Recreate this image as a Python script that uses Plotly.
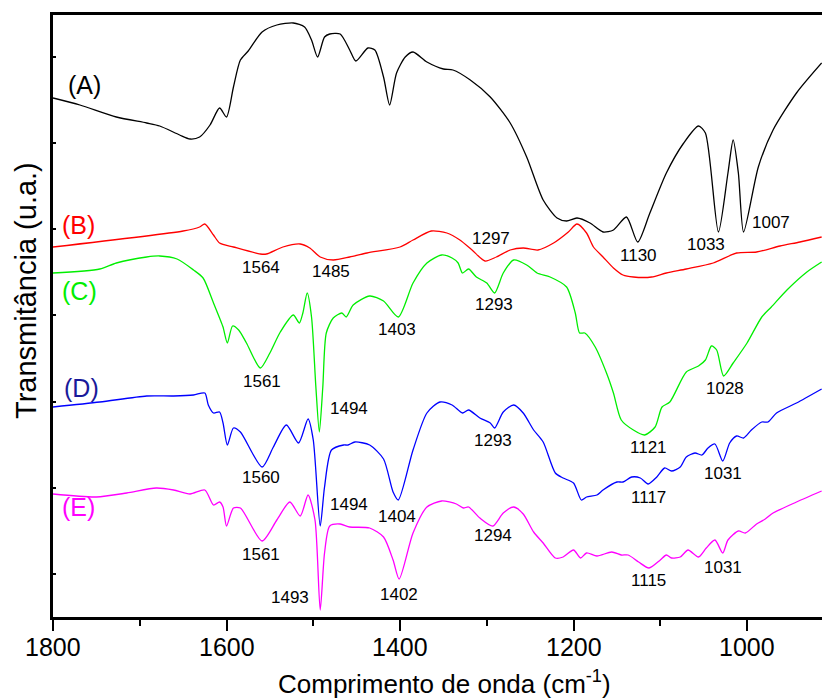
import plotly.graph_objects as go

# Wavenumbers (cm-1) and transmittance (arbitrary units, already offset) for each spectrum
wn_A = [1800, 1769, 1727, 1692, 1677, 1654, 1642, 1631, 1619, 1608, 1600, 1592, 1584, 1575, 1559, 1542, 1523, 1510, 1502, 1495, 1487, 1481, 1469, 1458, 1451, 1437, 1429, 1419, 1412, 1404, 1394, 1385, 1369, 1350, 1339, 1319, 1296, 1273, 1254, 1235, 1219, 1208, 1196, 1181, 1166, 1154, 1139, 1126, 1112, 1093, 1073, 1056, 1048, 1033, 1022, 1016, 1010, 1004, 987, 970, 943, 914]
T_A = [519, 512, 500, 494, 491, 482, 478, 480, 492, 509, 500, 530, 557, 566, 585, 592, 594, 590, 577, 560, 580, 583, 583, 567, 556, 569, 567, 540, 512, 544, 560, 565, 555, 548, 547, 537, 520, 494, 460, 417, 399, 396, 399, 394, 385, 387, 400, 375, 404, 444, 474, 491, 484, 385, 444, 477, 444, 385, 450, 487, 524, 554]

wn_B = [1800, 1650, 1631, 1625, 1615, 1608, 1592, 1561, 1554, 1535, 1515, 1504, 1492, 1477, 1458, 1438, 1400, 1385, 1364, 1346, 1331, 1317, 1302, 1289, 1273, 1258, 1241, 1223, 1206, 1196, 1185, 1177, 1166, 1154, 1143, 1131, 1110, 1093, 1070, 1039, 1012, 989, 962, 939, 914]
T_B = [370, 386, 390, 393, 382, 374, 370, 363, 363, 370, 373, 369, 360, 357, 360, 364, 370, 377, 386, 384, 377, 367, 356, 360, 367, 369, 367, 374, 385, 393, 384, 370, 360, 349, 342, 340, 340, 344, 348, 354, 364, 365, 371, 375, 380]

wn_C = [1800, 1746, 1727, 1692, 1677, 1657, 1638, 1627, 1615, 1608, 1604, 1599, 1593, 1586, 1577, 1561, 1550, 1538, 1523, 1516, 1512, 1507, 1502, 1497, 1493, 1489, 1485, 1477, 1467, 1462, 1454, 1435, 1419, 1402, 1385, 1369, 1352, 1340, 1333, 1328, 1321, 1312, 1300, 1291, 1281, 1269, 1254, 1242, 1227, 1208, 1198, 1193, 1187, 1175, 1162, 1154, 1145, 1131, 1118, 1106, 1098, 1089, 1070, 1056, 1048, 1041, 1035, 1027, 1016, 1000, 983, 972, 954, 931, 914]
T_C = [344, 348, 354, 360, 361, 358, 347, 339, 314, 299, 290, 274, 291, 287, 274, 249, 264, 285, 302, 294, 304, 324, 300, 230, 185, 230, 284, 299, 304, 300, 312, 321, 316, 300, 334, 354, 362, 359, 354, 344, 348, 340, 334, 324, 344, 357, 352, 344, 340, 330, 304, 284, 284, 270, 244, 224, 197, 187, 182, 190, 210, 215, 245, 251, 257, 271, 267, 241, 254, 274, 300, 310, 327, 345, 355]

wn_D = [1800, 1746, 1692, 1661, 1638, 1625, 1621, 1615, 1608, 1604, 1599, 1592, 1584, 1559, 1546, 1531, 1517, 1506, 1500, 1492, 1487, 1479, 1465, 1460, 1452, 1435, 1419, 1408, 1402, 1385, 1369, 1354, 1340, 1328, 1321, 1308, 1296, 1291, 1281, 1269, 1258, 1246, 1235, 1221, 1212, 1200, 1191, 1185, 1173, 1166, 1150, 1143, 1133, 1123, 1114, 1104, 1095, 1087, 1077, 1070, 1060, 1052, 1045, 1037, 1028, 1020, 1012, 1004, 995, 983, 976, 966, 943, 914]
T_D = [210, 215, 221, 221, 222, 224, 212, 204, 205, 194, 172, 189, 185, 150, 170, 192, 174, 198, 177, 91, 130, 167, 172, 172, 175, 172, 158, 125, 117, 167, 204, 215, 212, 204, 207, 199, 194, 189, 205, 212, 204, 187, 175, 144, 139, 134, 117, 120, 122, 127, 135, 135, 140, 139, 133, 140, 149, 146, 150, 160, 164, 162, 169, 173, 156, 174, 181, 179, 187, 195, 195, 204, 214, 228]

wn_E = [1800, 1750, 1715, 1681, 1661, 1642, 1625, 1615, 1608, 1604, 1600, 1592, 1584, 1559, 1542, 1527, 1515, 1506, 1498, 1492, 1487, 1481, 1469, 1458, 1435, 1419, 1408, 1401, 1385, 1369, 1352, 1335, 1327, 1321, 1308, 1293, 1281, 1269, 1258, 1246, 1235, 1221, 1212, 1200, 1192, 1185, 1173, 1156, 1145, 1137, 1125, 1113, 1100, 1093, 1087, 1077, 1068, 1056, 1047, 1037, 1028, 1022, 1010, 1002, 989, 979, 970, 943, 914]
T_E = [123, 120, 124, 129, 127, 123, 127, 112, 115, 110, 91, 109, 109, 76, 97, 115, 101, 122, 97, 7, 64, 91, 93, 90, 89, 80, 57, 38, 84, 110, 116, 113, 109, 110, 99, 91, 104, 110, 103, 85, 74, 59, 60, 67, 59, 64, 61, 65, 62, 62, 55, 49, 57, 62, 59, 60, 67, 60, 69, 77, 64, 77, 86, 84, 93, 98, 104, 115, 126]

series = [
    ("(A)", wn_A, T_A, "#000000"),
    ("(B)", wn_B, T_B, "#ff0000"),
    ("(C)", wn_C, T_C, "#00ee00"),
    ("(D)", wn_D, T_D, "#0000ff"),
    ("(E)", wn_E, T_E, "#ff00ff"),
]

# Curve labels: text, wavenumber, transmittance, colour
curve_labels = [
    ("(A)", 1764, 532, "#000000"),
    ("(B)", 1771, 392, "#ff0000"),
    ("(C)", 1769, 326, "#00ee00"),
    ("(D)", 1767, 229, "#1a1a9a"),
    ("(E)", 1771, 110, "#ff00ff"),
]

# Peak annotations: text, wavenumber, transmittance
peak_labels = [
    ("1564", 1560, 350), ("1485", 1480, 346), ("1297", 1295, 379),
    ("1130", 1125, 362), ("1033", 1047, 373), ("1007", 972, 395),
    ("1561", 1559, 236), ("1494", 1459, 209), ("1403", 1404, 288),
    ("1293", 1292, 313), ("1028", 1025, 229), ("1121", 1114, 170),
    ("1560", 1560, 140), ("1494", 1459, 113), ("1404", 1404, 101),
    ("1293", 1293, 177), ("1117", 1114, 120), ("1031", 1028, 144),
    ("1561", 1560, 63), ("1493", 1527, 20), ("1402", 1401, 23),
    ("1294", 1293, 82), ("1115", 1114, 37), ("1031", 1028, 50),
]

x_ticks = [1800, 1600, 1400, 1200, 1000]
x_minor = [1700, 1500, 1300, 1100]
y_ticks = [43, 129, 215, 302, 388, 474, 560]

FONT = "Liberation Sans, Arial, sans-serif"

fig = go.Figure()
for name, wn, T, col in series:
    fig.add_trace(go.Scatter(x=wn, y=T, mode="lines", name=name,
                             line=dict(color=col, width=1.3, shape="spline", smoothing=0.7),
                             showlegend=False, hoverinfo="skip"))

ann = []
for txt, x, y, col in curve_labels:
    ann.append(dict(x=x, y=y, xref="x", yref="y", text=txt, showarrow=False,
                    font=dict(family=FONT, size=25, color=col),
                    xanchor="center", yanchor="middle"))
for txt, x, y in peak_labels:
    ann.append(dict(x=x, y=y, xref="x", yref="y", text=txt, showarrow=False,
                    font=dict(family=FONT, size=17, color="#000000"),
                    xanchor="center", yanchor="middle"))

# x tick labels (placed close to the ticks as in the original)
for v in x_ticks:
    ann.append(dict(x=v, y=-(647 - 617) / 602, xref="x", yref="paper", text=str(v),
                    showarrow=False, font=dict(family=FONT, size=25, color="#000000"),
                    xanchor="center", yanchor="middle"))

# axis titles
ann.append(dict(x=(444 - 53) / 769, y=-(682 - 617) / 602, xref="paper", yref="paper",
                text="Comprimento de onda (cm<sup>-1</sup>)", showarrow=False,
                font=dict(family=FONT, size=26, color="#000000"),
                xanchor="center", yanchor="middle"))
ann.append(dict(x=-(53 - 26) / 769, y=(617 - 291) / 602, xref="paper", yref="paper",
                text="Transmitância (u.a.)", showarrow=False, textangle=-90,
                font=dict(family=FONT, size=29, color="#000000"),
                xanchor="center", yanchor="middle"))

fig.update_layout(
    width=822, height=698,
    margin=dict(l=53, r=0, t=15, b=81),
    paper_bgcolor="white", plot_bgcolor="white",
    annotations=ann,
    xaxis=dict(range=[1800, 913.6], tickvals=x_ticks, showticklabels=False,
               showline=True, linecolor="black", linewidth=2.5, mirror=True,
               ticks="outside", ticklen=11, tickwidth=2, tickcolor="black",
               minor=dict(tickvals=x_minor, ticks="outside", ticklen=6,
                          tickwidth=2, tickcolor="black"),
               showgrid=False, zeroline=False),
    yaxis=dict(range=[0, 602], tickvals=y_ticks, showticklabels=False,
               showline=True, linecolor="black", linewidth=2.5, mirror=False,
               ticks="inside", ticklen=3, tickwidth=2, tickcolor="black",
               showgrid=False, zeroline=False),
)

fig.write_html("out.html")
